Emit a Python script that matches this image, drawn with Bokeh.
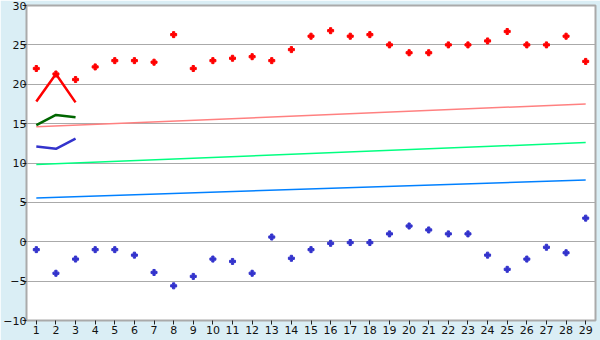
from bokeh.plotting import figure
from bokeh.models import FixedTicker
from bokeh.embed import file_html
from bokeh.resources import INLINE

days = list(range(1, 30))
high = [22.0, 21.3, 20.6, 22.2, 23.0, 23.0, 22.8, 26.3, 22.0, 23.0,
        23.3, 23.5, 23.0, 24.4, 26.1, 26.8, 26.1, 26.3, 25.0, 24.0,
        24.0, 25.0, 25.0, 25.5, 26.7, 25.0, 25.0, 26.1, 22.9]
low = [-1.0, -4.0, -2.2, -1.0, -1.0, -1.7, -3.9, -5.6, -4.4, -2.2,
       -2.5, -4.0, 0.6, -2.1, -1.0, -0.2, -0.1, -0.1, 1.0, 2.0,
       1.5, 1.0, 1.0, -1.7, -3.5, -2.2, -0.7, -1.4, 3.0]
short_x = [1, 2, 3]
short_red = [17.8, 21.3, 17.7]
short_green = [14.8, 16.1, 15.8]
short_blue = [12.1, 11.8, 13.1]
trend_x = [1, 29]
trend_red = [14.6, 17.5]
trend_green = [9.8, 12.6]
trend_blue = [5.55, 7.85]
y_ticks = [-10, -5, 0, 5, 10, 15, 20, 25, 30]

p = figure(width=600, height=340, x_range=(0.5, 29.5), y_range=(-10, 30),
           output_backend="svg", toolbar_location=None,
           min_border_left=10, min_border_right=5, min_border_top=5, min_border_bottom=20)
p.background_fill_color = "white"
p.border_fill_color = "#daeef5"
p.outline_line_color = "#aaaaaa"
p.outline_line_width = 2

p.xgrid.grid_line_color = None
p.ygrid.grid_line_color = "#aaaaaa"
p.ygrid.grid_line_width = 1

p.yaxis.ticker = FixedTicker(ticks=y_ticks)
p.xaxis.ticker = FixedTicker(ticks=days)
for ax in (p.xaxis, p.yaxis):
    ax.axis_line_color = None
    ax.axis_label = None
    ax.axis_label_standoff = 0
    ax.major_tick_line_color = "#222222"
    ax.major_tick_out = 4
    ax.major_tick_in = 0
    ax.minor_tick_line_color = None
    ax.major_label_text_font = "DejaVu Sans"
    ax.major_label_text_font_size = "11px"
    ax.major_label_text_color = "#111111"
    ax.major_label_standoff = 1
p.yaxis.major_label_standoff = -4

# trend lines
p.line(trend_x, trend_red, line_color="#ff8080", line_width=1.5)
p.line(trend_x, trend_green, line_color="#00ff80", line_width=1.5)
p.line(trend_x, trend_blue, line_color="#0080ff", line_width=1.5)

# short lines
p.line(short_x, short_red, line_color="#ff0000", line_width=2.5)
p.line(short_x, short_green, line_color="#006600", line_width=2.5)
p.line(short_x, short_blue, line_color="#3333cc", line_width=2.5)

# markers
p.scatter(days, high, marker="plus", size=6, fill_color="#ff0000", line_color="#ff0000")
p.scatter(days, low, marker="plus", size=6, fill_color="#3333cc", line_color="#3333cc")

open("out.html", "w").write(file_html(p, INLINE))
